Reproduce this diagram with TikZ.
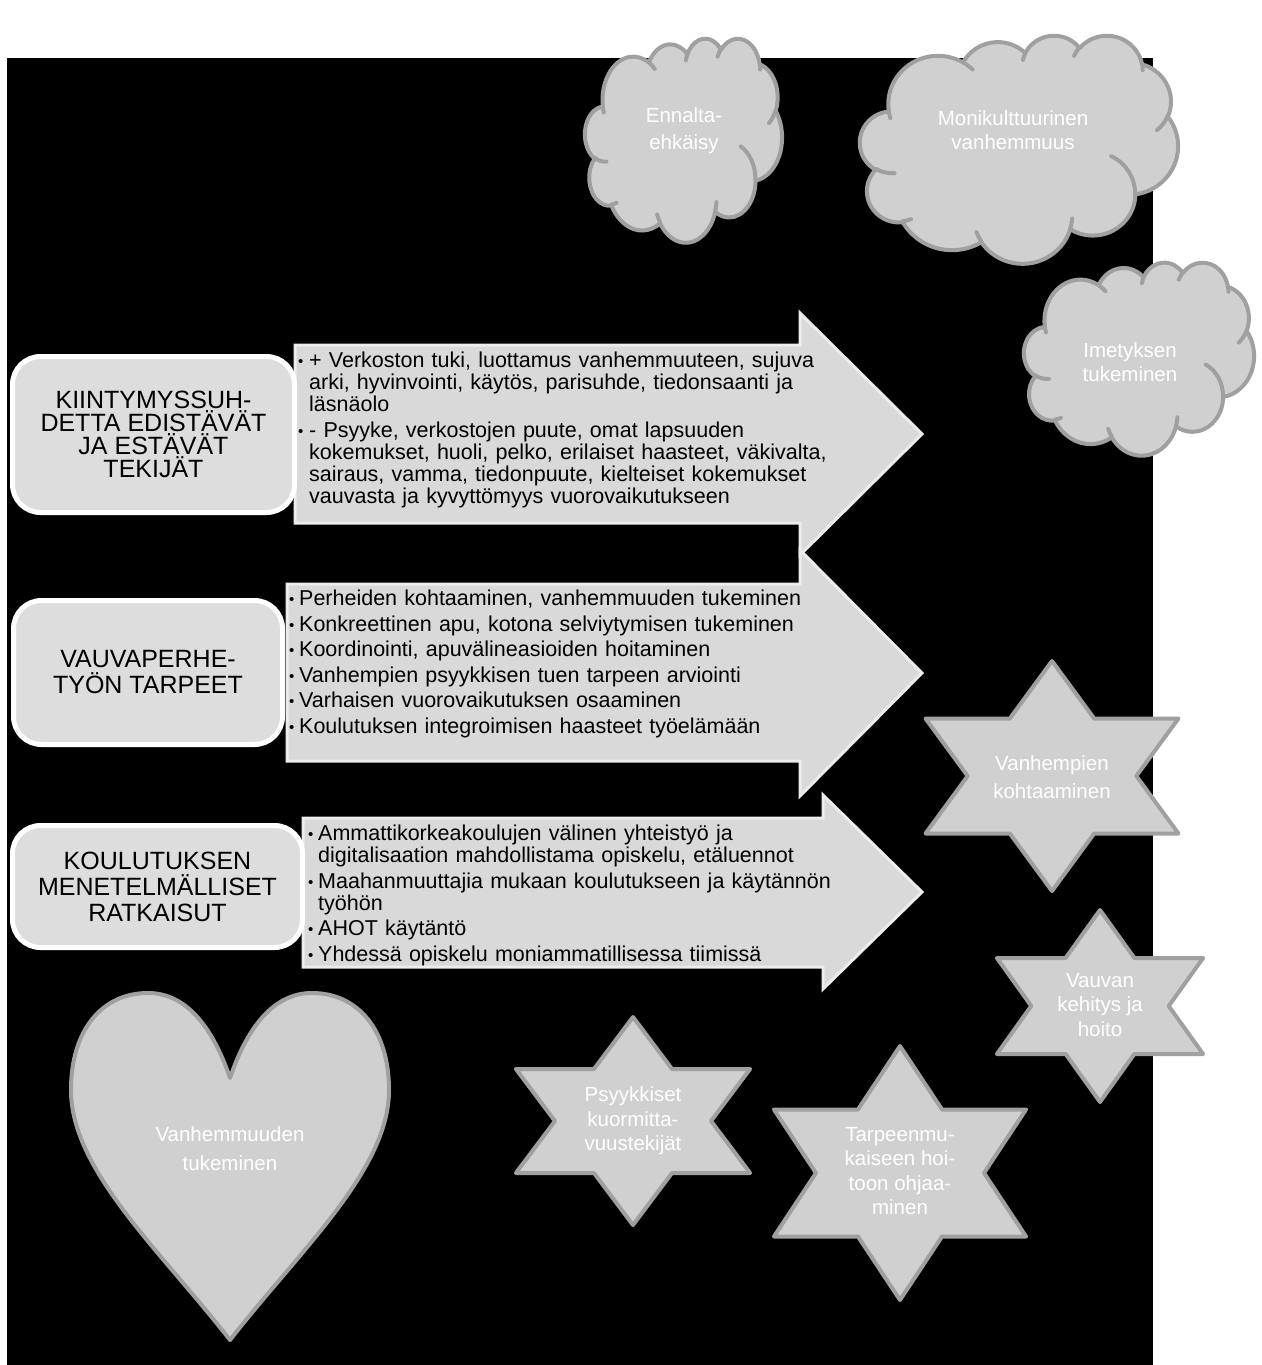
\documentclass[tikz,border=0pt]{standalone}
\usepackage{fontspec}
\setmainfont{Liberation Sans}

\definecolor{shapefill}{RGB}{208,208,208}
\definecolor{shapeedge}{RGB}{160,160,160}
\definecolor{boxfill}{RGB}{221,221,221}
\definecolor{arrowfill}{RGB}{217,217,217}
\definecolor{arrowedge}{RGB}{236,236,236}

\newcommand{\itemfont}{\fontsize{21.5}{22}\selectfont\setlength{\parskip}{3.5pt}}
\newcommand{\titlefont}{\fontsize{25}{26}\selectfont}
\newcommand{\whitefont}{\fontsize{20.5}{24.5}\selectfont}
\newcommand{\bulletmark}{\raisebox{1pt}{\fontsize{15}{15}\selectfont\textbullet}}
\newcommand{\bitem}[2][11pt]{\par\hangindent=#1\hangafter=1\noindent
  \makebox[#1][l]{\bulletmark}#2\par}
\newcommand{\firststrut}{\rule{0pt}{16pt}}

% six-pointed star: centre x, centre y, outer radius, horizontal stretch
\newcommand{\sixstar}[4]{%
  \pgfmathsetmacro{\starinner}{#3/sqrt(3)}%
  \begin{scope}[shift={(#1,#2)},xscale=#4]
    \draw[shapeline] (90:#3) -- (60:\starinner) -- (30:#3) -- (0:\starinner)
      -- (-30:#3) -- (-60:\starinner) -- (-90:#3) -- (-120:\starinner)
      -- (-150:#3) -- (180:\starinner) -- (150:#3) -- (120:\starinner) -- cycle;
  \end{scope}}

% elliptic arc given by its radii, the direction angle of its start point
% and its sweep; stored as a style with parametric start angle and sweep
\newcommand{\cloudarcdef}[5]{%
  \pgfmathsetmacro{\cldts}{atan2(#2*sin(#4),#3*cos(#4))}%
  \pgfmathsetmacro{\cldte}{atan2(#2*sin(#4+#5),#3*cos(#4+#5))}%
  \pgfmathsetmacro{\cldd}{\cldte-\cldts}%
  \pgfmathsetmacro{\cldd}{\cldd+360*and(#5>0,\cldd<0)-360*and(#5<0,\cldd>0)}%
  \edef\cldtmp{\noexpand\tikzset{cldarc#1/.style={x radius=#2, y radius=#3,
    start angle=\cldts, delta angle=\cldd}}}%
  \cldtmp}
\newcommand{\ca}[1]{arc[cldarc#1]}

% outline arcs of the cloud (box 432 x 432)
\cloudarcdef{A}{67.53}{91.90}{-190.4875}{123.7805}
\cloudarcdef{B}{53.33}{72.67}{-144.1024}{89.9452}
\cloudarcdef{C}{43.65}{59.45}{-145.8079}{99.7230}
\cloudarcdef{D}{48.57}{65.95}{-130.9861}{117.2417}
\cloudarcdef{E}{53.33}{72.73}{-78.7089}{109.0269}
\cloudarcdef{F}{67.75}{92.20}{-46.2673}{130.2690}
\cloudarcdef{G}{57.85}{78.67}{0.6250}{114.0333}
\cloudarcdef{H}{67.52}{92.15}{22.4516}{115.1726}
\cloudarcdef{I}{77.20}{105.43}{66.2426}{75.7110}
\cloudarcdef{J}{43.60}{59.18}{-274.9421}{146.7356}
\cloudarcdef{K}{43.45}{59.45}{-246.8285}{152.5189}
% inner puff arcs
\cloudarcdef{a}{43.45}{59.45}{86.7420}{26.4295}
\cloudarcdef{b}{43.60}{59.18}{73.6105}{11.4475}
\cloudarcdef{c}{67.52}{92.15}{137.6242}{14.0811}
\cloudarcdef{d}{67.52}{92.15}{6.4533}{15.9984}
\cloudarcdef{e}{57.85}{78.67}{-70.2924}{70.9174}
\cloudarcdef{f}{53.33}{72.73}{30.3180}{27.7515}
\cloudarcdef{g}{48.57}{65.95}{-13.7443}{14.8589}
\cloudarcdef{h}{48.57}{65.95}{-149.1815}{18.1954}
\cloudarcdef{i}{43.65}{59.45}{-163.4943}{17.6864}
\cloudarcdef{j}{67.53}{91.90}{-66.7070}{12.3194}
\cloudarcdef{k}{67.53}{91.90}{157.6544}{11.8582}

% cloud: left, top, width, height
\newcommand{\cloudshape}[4]{%
  \begin{scope}[shift={(#1,#2)}, x=#3pt/432, y=-#4pt/432]
    \draw[shapeline] (39,143.70) \ca{A} \ca{B} \ca{C} \ca{D} \ca{E} \ca{F}
      \ca{G} \ca{H} \ca{I} \ca{J} \ca{K} -- cycle;
    \draw[shapeline, fill=none, line cap=round]
      (46.93,261.77) \ca{a} (69.28,348.99) \ca{b} (164.78,390.90) \ca{c}
      (288.27,347.51) \ca{d} (341.29,229.54) \ca{e} (417.98,153.54) \ca{f}
      (383.24,54.26) \ca{g} (290.78,39.52) \ca{h} (221.41,47.20) \ca{i}
      (140.00,51.92) \ca{j} (41.27,157.89) \ca{k};
  \end{scope}}

\tikzset{
  arrowshape/.style={fill=arrowfill, draw=arrowedge, line width=3pt, line join=miter},
  titlebox/.style={rectangle, rounded corners=28pt, fill=boxfill, draw=white,
    line width=5pt, align=center, inner sep=0pt, font=\titlefont},
  itemtext/.style={anchor=north west, inner sep=0pt, text width=640pt,
    align=left, font=\itemfont},
  shapeline/.style={fill=shapefill, draw=shapeedge, line width=4pt, line join=round},
  whitetext/.style={text=white, align=center, inner sep=0pt, font=\whitefont},
}

\begin{document}
\begin{tikzpicture}[x=1pt,y=-1pt]
\useasboundingbox (0,0) rectangle (1261,1365);
\fill[black] (7,58) rectangle (1153,1365);

% block arrows
\draw[arrowshape] (295,345) -- (800,345) -- (800,313) -- (922,434) -- (800,555)
  -- (800,523) -- (295,523) -- cycle;
\draw[arrowshape] (287,584) -- (800,584) -- (800,550) -- (922,673) -- (800,796)
  -- (800,761) -- (287,761) -- cycle;
\draw[arrowshape] (303,818) -- (823,818) -- (823,795) -- (922,892) -- (823,989)
  -- (823,967) -- (303,967) -- cycle;

% arrow texts
\node[itemtext] (items1) at (298,342) {%
  \bitem{\firststrut+ Verkoston tuki, luottamus vanhemmuuteen, sujuva\newline
    arki, hyvinvointi, käytös, parisuhde, tiedonsaanti ja\newline
    läsnäolo}
  \bitem{- Psyyke, verkostojen puute, omat lapsuuden\newline
    kokemukset, huoli, pelko, erilaiset haasteet, väkivalta,\newline
    sairaus, vamma, tiedonpuute, kielteiset kokemukset\newline
    vauvasta ja kyvyttömyys vuorovaikutukseen}};
\node[itemtext] (items2) at (289,580) {%
  \bitem[10pt]{\firststrut Perheiden kohtaaminen, vanhemmuuden tukeminen}
  \bitem[10pt]{Konkreettinen apu, kotona selviytymisen tukeminen}
  \bitem[10pt]{Koordinointi, apuvälineasioiden hoitaminen}
  \bitem[10pt]{Vanhempien psyykkisen tuen tarpeen arviointi}
  \bitem[10pt]{Varhaisen vuorovaikutuksen osaaminen}
  \bitem[10pt]{Koulutuksen integroimisen haasteet työelämään}};
\node[itemtext] (items3) at (308,815) {%
  \bitem[10pt]{\firststrut Ammattikorkeakoulujen välinen yhteistyö ja\newline
    digitalisaation mahdollistama opiskelu, etäluennot}
  \bitem[10pt]{Maahanmuuttajia mukaan koulutukseen ja käytännön\newline
    työhön}
  \bitem[10pt]{AHOT käytäntö}
  \bitem[10pt]{Yhdessä opiskelu moniammatillisessa tiimissä}};

% title boxes
\node[titlebox, minimum width=282pt, minimum height=156pt,
  font=\fontsize{25}{23}\selectfont] (title1) at (153.5,434.5)
  {KIINTYMYSSUH-\\DETTA EDISTÄVÄT\\JA ESTÄVÄT\\TEKIJÄT};
\node[titlebox, minimum width=269pt, minimum height=144pt] (title2) at (148,672.5)
  {VAUVAPERHE-\\TYÖN TARPEET};
\node[titlebox, minimum width=290pt, minimum height=122pt] (title3) at (157.5,886.5)
  {KOULUTUKSEN\\MENETELMÄLLISET\\RATKAISUT};

% clouds
\cloudshape{585}{38}{197}{204}
\node[whitetext, font=\fontsize{20.5}{27}\selectfont] (cloudtext1) at (684,130.5)
  {Ennalta-\\ehkäisy};
\cloudshape{860}{35}{318}{228}
\node[whitetext] (cloudtext2) at (1013,130) {Monikulttuurinen\\vanhemmuus};
\cloudshape{1024}{262}{230}{193}
\node[whitetext] (cloudtext3) at (1130,362) {Imetyksen\\tukeminen};

% stars
\sixstar{1052}{776}{115}{1.27}
\node[whitetext, font=\fontsize{20.5}{28}\selectfont] (star1) at (1052,777)
  {Vanhempien\\kohtaaminen};
\sixstar{1100}{1006}{96}{1.24}
\node[whitetext] (star2) at (1100,1005) {Vauvan\\kehitys ja\\hoito};
\sixstar{633}{1121}{104}{1.3}
\node[whitetext] (star3) at (633,1121) {Psyykkiset\\kuormitta-\\vuustekijät};
\sixstar{900}{1173}{127}{1.146}
\node[whitetext] (star4) at (900,1171) {Tarpeenmu-\\kaiseen hoi-\\toon ohjaa-\\minen};

% heart
\draw[shapeline] (230,1078) .. controls (248,1025) and (275,993) .. (312,993)
  .. controls (358,993) and (389,1030) .. (389,1090)
  .. controls (389,1170) and (300,1250) .. (230,1340)
  .. controls (160,1250) and (71,1170) .. (71,1090)
  .. controls (71,1030) and (102,993) .. (148,993)
  .. controls (185,993) and (212,1025) .. (230,1078) -- cycle;
\node[whitetext, font=\fontsize{20.5}{29}\selectfont] (hearttext) at (230,1149)
  {Vanhemmuuden\\tukeminen};
\end{tikzpicture}
\end{document}
